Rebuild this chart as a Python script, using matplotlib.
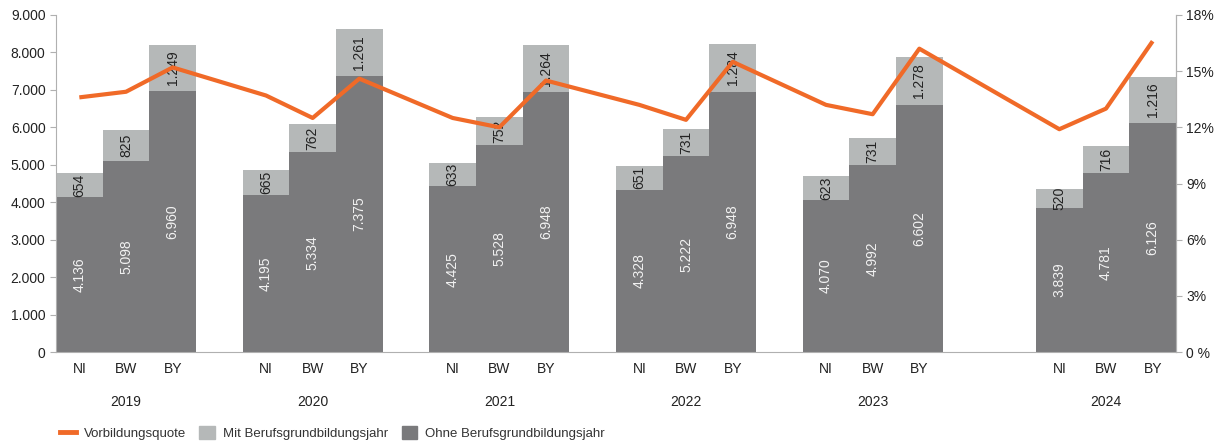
import matplotlib
matplotlib.use("Agg")
import matplotlib.pyplot as plt
from matplotlib.lines import Line2D
from matplotlib.patches import Patch
from matplotlib.ticker import FuncFormatter

plt.rcParams['font.family'] = ['Liberation Sans', 'DejaVu Sans']

# data
years = ['2019', '2020', '2021', '2022', '2023', '2024']
states = ['NI', 'BW', 'BY']
ohne = [4136, 5098, 6960, 4195, 5334, 7375, 4425, 5528, 6948,
        4328, 5222, 6948, 4070, 4992, 6602, 3839, 4781, 6126]
mit = [654, 825, 1249, 665, 762, 1261, 633, 752, 1264,
       651, 731, 1284, 623, 731, 1278, 520, 716, 1216]
quote = [13.6, 13.9, 15.2, 13.7, 12.5, 14.6, 12.5, 12.0, 14.5,
         13.2, 12.4, 15.5, 13.2, 12.7, 16.2, 11.9, 13.0, 16.6]

dark = '#7a7a7c'
light = '#b5b8b8'
orange = '#f06a28'
axcol = '#b0b0b0'

# slot positions: 3 bars + 1 gap per year, an extra gap before 2024
group_start = [0, 4, 8, 12, 16, 21]
xs = [g + i + 0.5 for g in group_start for i in range(3)]

fig = plt.figure(figsize=(12.25, 4.41), dpi=100)
ax = fig.add_axes([56 / 1225, 1 - 352 / 441, 1120 / 1225, 337 / 441])

ax.bar(xs, ohne, width=1.0, color=dark, edgecolor='none', zorder=2)
ax.bar(xs, mit, width=1.0, bottom=ohne, color=light, edgecolor='none', zorder=2)

def de(v):
    return f'{v:,}'.replace(',', '.')

for x, o, m in zip(xs, ohne, mit):
    ax.text(x, o / 2, de(o), rotation=90, ha='center', va='center',
            color='#f2f2f2', fontsize=10, zorder=3)
    ax.text(x, o + m / 2, de(m), rotation=90, ha='center', va='center',
            color='#222222', fontsize=10, zorder=3)

ax.set_xlim(0, 24)
ax.set_ylim(0, 9000)
ax.set_yticks(range(0, 9001, 1000))
ax.yaxis.set_major_formatter(FuncFormatter(lambda v, p: de(int(v))))
ax.set_xticks(xs)
ax.set_xticklabels(states * len(years))
ax.tick_params(axis='x', length=0, pad=7, labelsize=10, colors='#222222')
ax.tick_params(axis='y', length=4, color=axcol, labelsize=10, labelcolor='#222222')
for g, yr in zip(group_start, years):
    ax.text(g + 1.5, -0.148, yr, transform=ax.get_xaxis_transform(),
            ha='center', va='center', fontsize=10, color='#222222')

ax.spines['top'].set_visible(False)
for s in ['left', 'right', 'bottom']:
    ax.spines[s].set_color(axcol)

ax2 = ax.twinx()
ax2.plot(xs, quote, color=orange, lw=3, zorder=5, solid_capstyle='butt')
ax2.set_ylim(0, 18)
ax2.set_yticks(range(0, 19, 3))
ax2.set_yticklabels(['0 %'] + [f'{v}%' for v in range(3, 19, 3)])
ax2.tick_params(axis='y', length=4, color=axcol, labelsize=10, labelcolor='#222222')
ax2.spines['top'].set_visible(False)
ax2.spines['left'].set_visible(False)
ax2.spines['bottom'].set_visible(False)
ax2.spines['right'].set_color(axcol)

handles = [Line2D([0], [0], color=orange, lw=3.5),
           Patch(color=light), Patch(color=dark)]
labels = ['Vorbildungsquote', 'Mit Berufsgrundbildungsjahr',
          'Ohne Berufsgrundbildungsjahr']
leg = fig.legend(handles, labels, loc='center left',
                 bbox_to_anchor=(55 / 1225, 1 - 433 / 441), borderaxespad=0,
                 ncol=3, frameon=False, fontsize=9.5, handlelength=1.2,
                 handleheight=1.2, columnspacing=1.0, handletextpad=0.6)
for t in leg.get_texts():
    t.set_color('#333333')

fig.savefig('out.png', dpi=100)
